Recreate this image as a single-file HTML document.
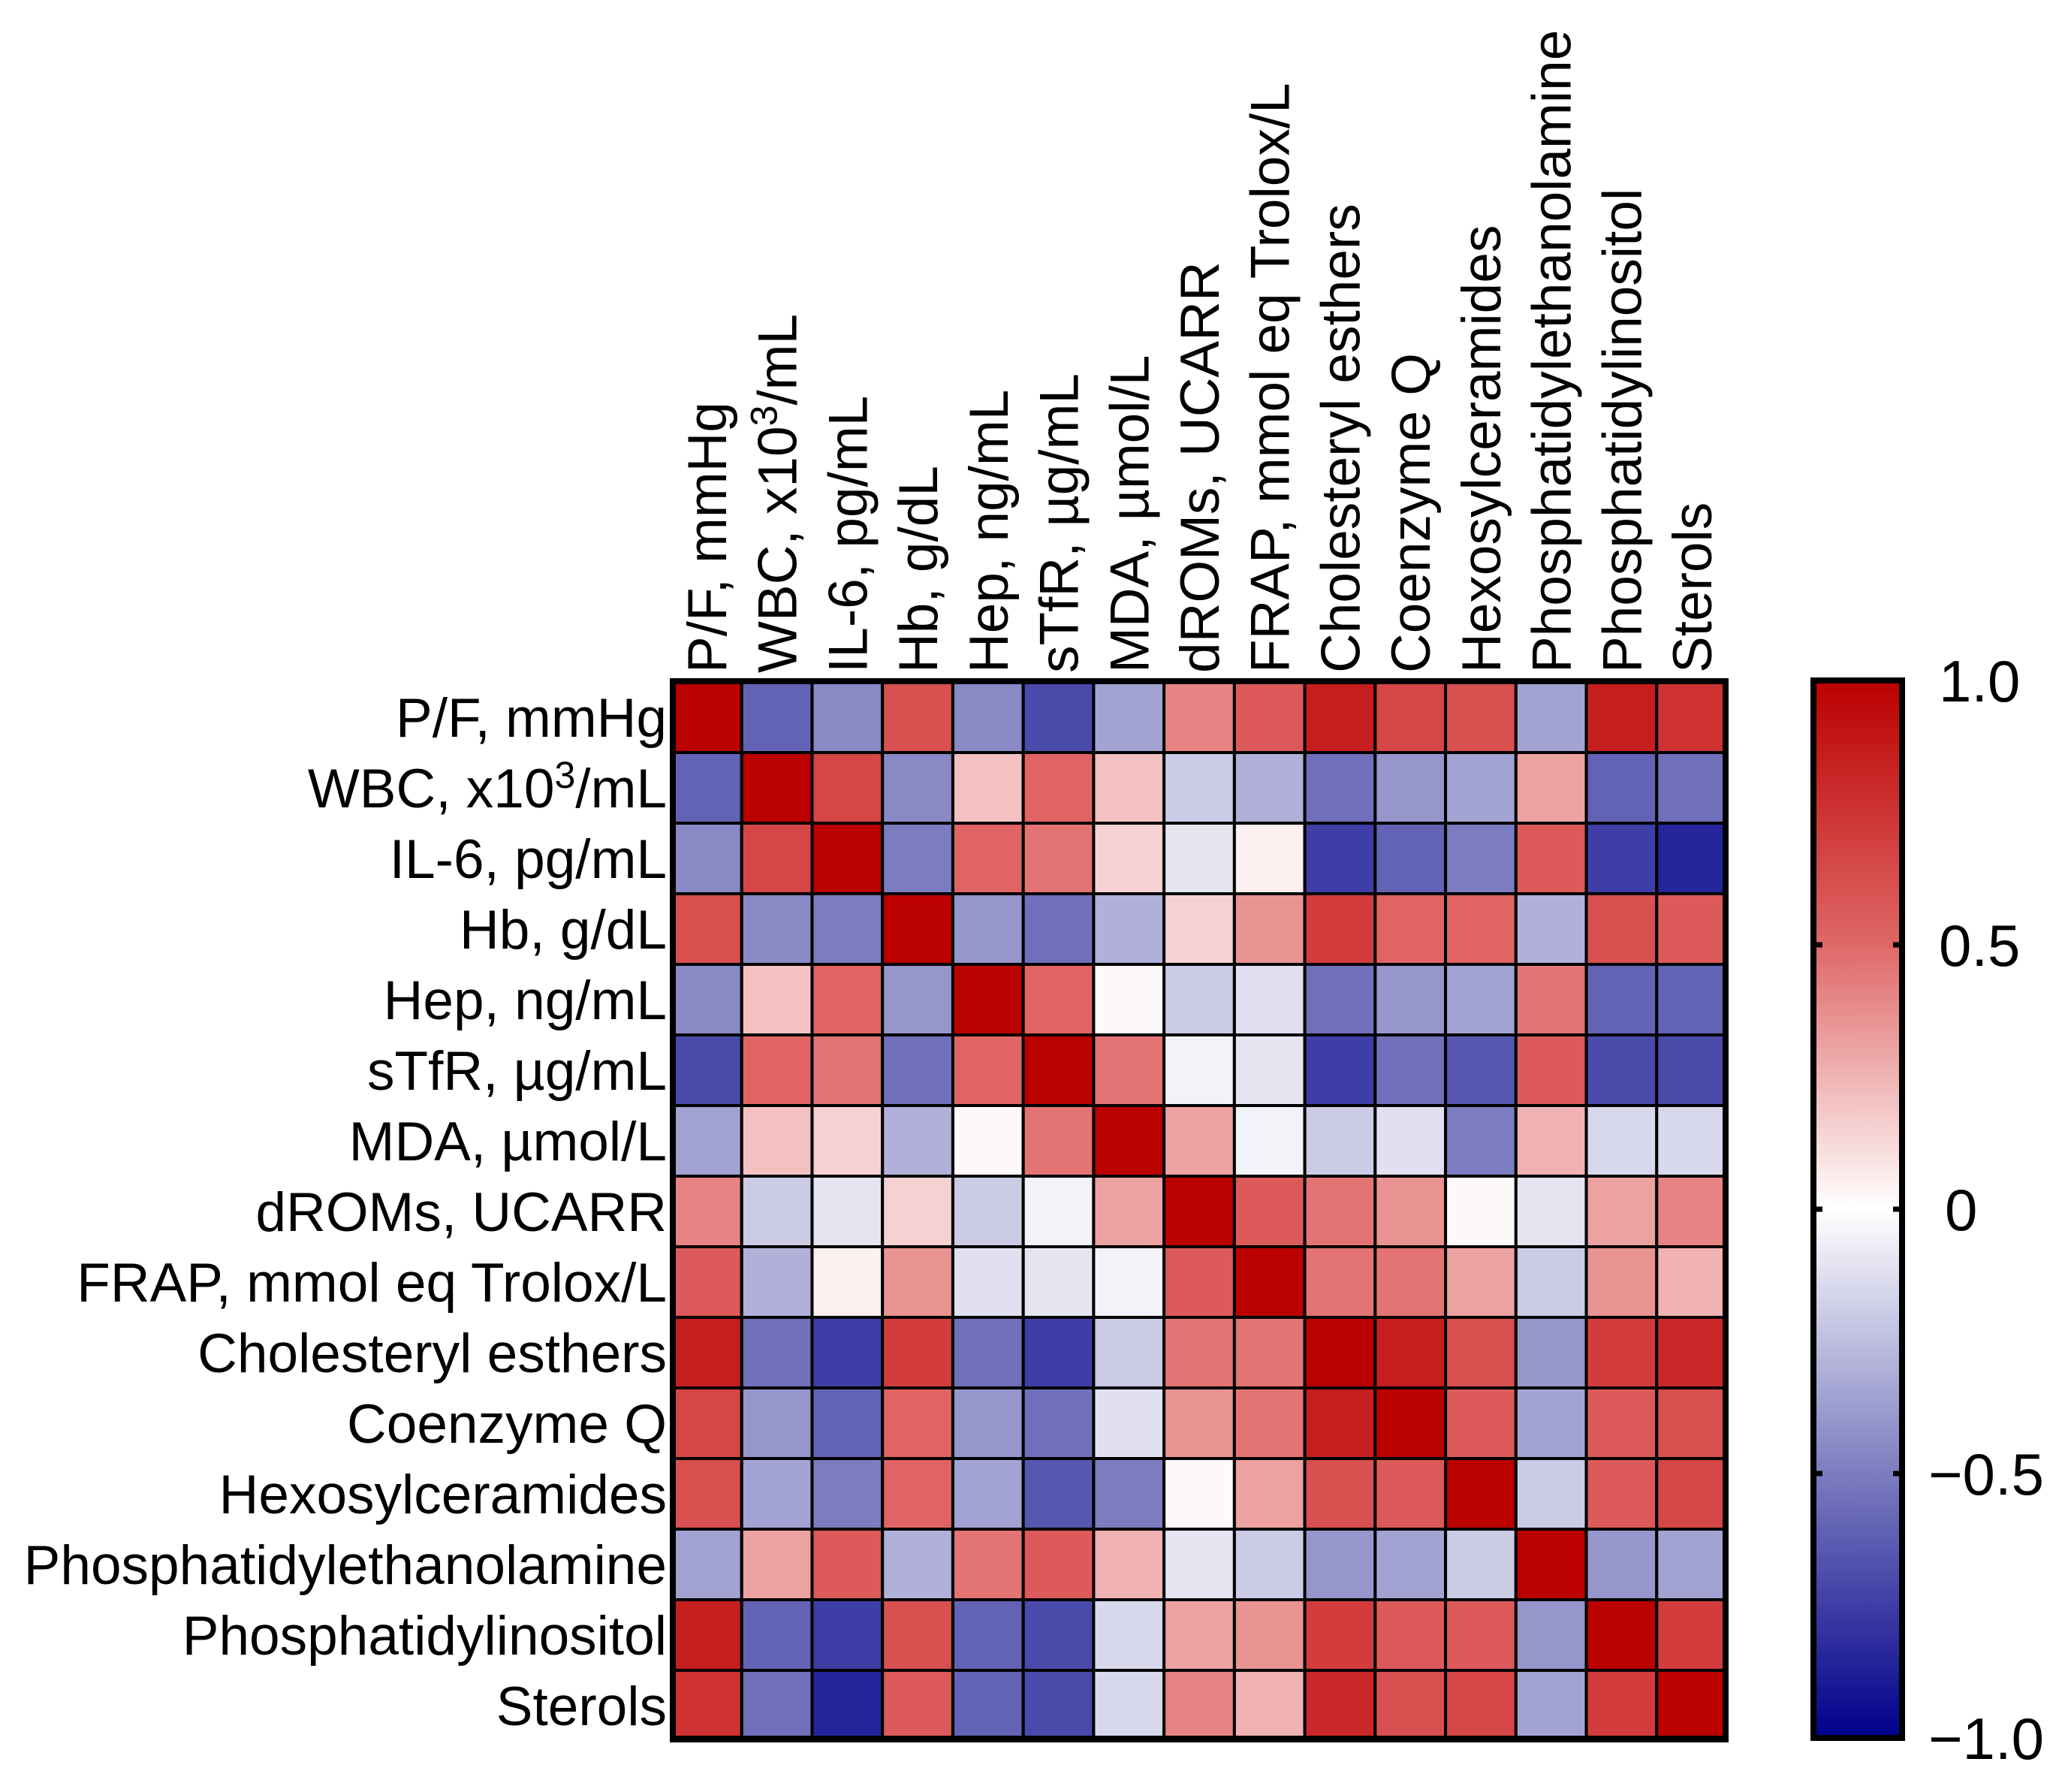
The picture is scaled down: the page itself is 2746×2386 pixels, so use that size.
<!DOCTYPE html>
<html><head><meta charset="utf-8"><style>
html,body{margin:0;padding:0;background:#fff;}
svg{display:block;font-family:"Liberation Sans",Arial,sans-serif;}
</style></head><body>
<svg id="chart" width="2746" height="2386" viewBox="0 0 2746 2386" xmlns="http://www.w3.org/2000/svg">
<defs>
<linearGradient id="cbgrad" x1="0" y1="0" x2="0" y2="1">
<stop offset="0" stop-color="#bb0000"/>
<stop offset="0.25" stop-color="#e06868"/>
<stop offset="0.5" stop-color="#ffffff"/>
<stop offset="0.75" stop-color="#7c7cc0"/>
<stop offset="1" stop-color="#00008b"/>
</linearGradient>
</defs>
<g id="cells"></g>
<g id="rowlabels"></g>
<g id="collabels"></g>
<rect x="896" y="907" width="1402" height="1408" fill="none" stroke="#000" stroke-width="8"/>
<rect x="2415" y="906" width="118" height="1408" fill="url(#cbgrad)" stroke="#000" stroke-width="8"/>
<g id="cbticks"></g>
</svg>
<script>
const labels = ["P/F, mmHg","WBC, x10^3/mL","IL-6, pg/mL","Hb, g/dL","Hep, ng/mL","sTfR, µg/mL","MDA, µmol/L","dROMs, UCARR","FRAP, mmol eq Trolox/L","Cholesteryl esthers","Coenzyme Q","Hexosylceramides","Phosphatidylethanolamine","Phosphatidylinositol","Sterols"];
const r0 = [1,-0.6,-0.45,0.6,-0.45,-0.7,-0.35,0.4,0.55,0.85,0.65,0.6,-0.35,0.85,0.75];
const r1 = [-0.6,1,0.65,-0.45,0.2,0.5,0.2,-0.2,-0.3,-0.55,-0.4,-0.35,0.3,-0.6,-0.55];
const r2 = [-0.45,0.65,1,-0.5,0.5,0.45,0.15,-0.1,0.05,-0.75,-0.6,-0.5,0.55,-0.75,-0.85];
const r3 = [0.6,-0.45,-0.5,1,-0.4,-0.55,-0.3,0.15,0.35,0.7,0.5,0.5,-0.3,0.6,0.55];
const r4 = [-0.45,0.2,0.5,-0.4,1,0.5,0.02,-0.2,-0.12,-0.55,-0.4,-0.35,0.45,-0.6,-0.6];
const r5 = [-0.7,0.5,0.45,-0.55,0.5,1,0.45,-0.05,-0.1,-0.75,-0.55,-0.65,0.55,-0.7,-0.7];
const r6 = [-0.35,0.2,0.15,-0.3,0.02,0.45,1,0.3,-0.05,-0.2,-0.12,-0.5,0.25,-0.15,-0.15];
const r7 = [0.4,-0.2,-0.1,0.15,-0.2,-0.05,0.3,1,0.55,0.45,0.35,0.02,-0.1,0.3,0.4];
const r8 = [0.55,-0.3,0.05,0.35,-0.12,-0.1,-0.05,0.55,1,0.45,0.45,0.3,-0.2,0.35,0.25];
const r9 = [0.85,-0.55,-0.75,0.7,-0.55,-0.75,-0.2,0.45,0.45,1,0.85,0.6,-0.4,0.7,0.8];
const r10 = [0.65,-0.4,-0.6,0.5,-0.4,-0.55,-0.12,0.35,0.45,0.85,1,0.55,-0.35,0.55,0.6];
const r11 = [0.6,-0.35,-0.5,0.5,-0.35,-0.65,-0.5,0.02,0.3,0.6,0.55,1,-0.2,0.55,0.65];
const r12 = [-0.35,0.3,0.55,-0.3,0.45,0.55,0.25,-0.1,-0.2,-0.4,-0.35,-0.2,1,-0.4,-0.35];
const r13 = [0.85,-0.6,-0.75,0.6,-0.6,-0.7,-0.15,0.3,0.35,0.7,0.55,0.55,-0.4,1,0.7];
const r14 = [0.75,-0.55,-0.85,0.55,-0.6,-0.7,-0.15,0.4,0.25,0.8,0.6,0.65,-0.35,0.7,1];
const matrix = [r0,r1,r2,r3,r4,r5,r6,r7,r8,r9,r10,r11,r12,r13,r14];
const tickValues = [1, 0.5, 0, -0.5, -1];
const tickLabels = ["1.0","0.5","0","\u22120.5","\u22121.0"];

const NS = "http://www.w3.org/2000/svg";
const gx0 = 894, gy0 = 908, gw = 1406, gh = 1410;
const n = labels.length;
const cw = gw / n, ch = gh / n;
const xPos = i => gx0 + i * cw;
const yPos = j => gy0 + j * ch;
const cbTop = 906, cbBot = 2314;
const cbY = v => cbTop + (1 - v) / 2 * (cbBot - cbTop);
const stops = [[-1,[0,0,139]],[-0.5,[124,124,192]],[0,[255,255,255]],[0.5,[225,100,100]],[1,[187,0,0]]];
function color(v){
  v = Math.max(-1, Math.min(1, v));
  for (let k = 0; k < stops.length - 1; k++){
    const [a, ca] = stops[k], [b, cb] = stops[k+1];
    if (v <= b){
      const t = (v - a) / (b - a);
      const c = ca.map((x, i) => Math.round(x + (cb[i] - x) * t));
      return `rgb(${c[0]},${c[1]},${c[2]})`;
    }
  }
  return "rgb(187,0,0)";
}
function fillLabel(t, lab){
  const parts = lab.split('^');
  if (parts.length === 1){ t.textContent = lab; return; }
  t.appendChild(document.createTextNode(parts[0]));
  const s = document.createElementNS(NS, 'tspan');
  s.setAttribute('dy', '-26'); s.setAttribute('font-size', '50');
  s.textContent = parts[1][0];
  t.appendChild(s);
  const r = document.createElementNS(NS, 'tspan');
  r.setAttribute('dy', '26');
  r.textContent = parts[1].slice(1);
  t.appendChild(r);
}
const cells = document.getElementById('cells');
matrix.forEach((row, j) => row.forEach((v, i) => {
  const r = document.createElementNS(NS, 'rect');
  
  
  r.setAttribute('x', xPos(i)); r.setAttribute('y', yPos(j));
  r.setAttribute('width', cw); r.setAttribute('height', ch);
  r.setAttribute('fill', color(v)); r.setAttribute('stroke', '#000'); r.setAttribute('stroke-width', '4');
  cells.appendChild(r);
}));
const rl = document.getElementById('rowlabels');
const cl = document.getElementById('collabels');
labels.forEach((lab, k) => {
  const t = document.createElementNS(NS, 'text');
  
  
  t.setAttribute('x', 888); t.setAttribute('y', yPos(k) + ch / 2 + 26);
  t.setAttribute('text-anchor', 'end'); t.setAttribute('font-size', '73');
  fillLabel(t, lab);
  rl.appendChild(t);
  const c = document.createElementNS(NS, 'text');
  
  
  const cx = xPos(k) + cw / 2 + 26, cy = 896;
  c.setAttribute('x', cx); c.setAttribute('y', cy);
  c.setAttribute('transform', `rotate(-90 ${cx} ${cy})`);
  c.setAttribute('font-size', '73');
  fillLabel(c, lab);
  cl.appendChild(c);
});
const cbt = document.getElementById('cbticks');
tickValues.forEach((v, k) => {
  const y = cbY(v);
  if (k > 0 && k < tickValues.length - 1){
    ['2415','2521'].forEach(x0 => {
      const l = document.createElementNS(NS, 'line');
      
      
      l.setAttribute('x1', x0); l.setAttribute('x2', +x0 + 12);
      l.setAttribute('y1', y); l.setAttribute('y2', y);
      l.setAttribute('stroke', '#000'); l.setAttribute('stroke-width', '7');
      cbt.appendChild(l);
    });
  }
  const t = document.createElementNS(NS, 'text');
  
  
  const isNeg = v < 0;
  t.setAttribute('x', isNeg ? 2568 : (v === 0 ? 2590 : 2582));
  t.setAttribute('y', y + 28);
  t.setAttribute('font-size', '78');
  t.textContent = tickLabels[k];
  cbt.appendChild(t);
});
</script>
</body></html>
